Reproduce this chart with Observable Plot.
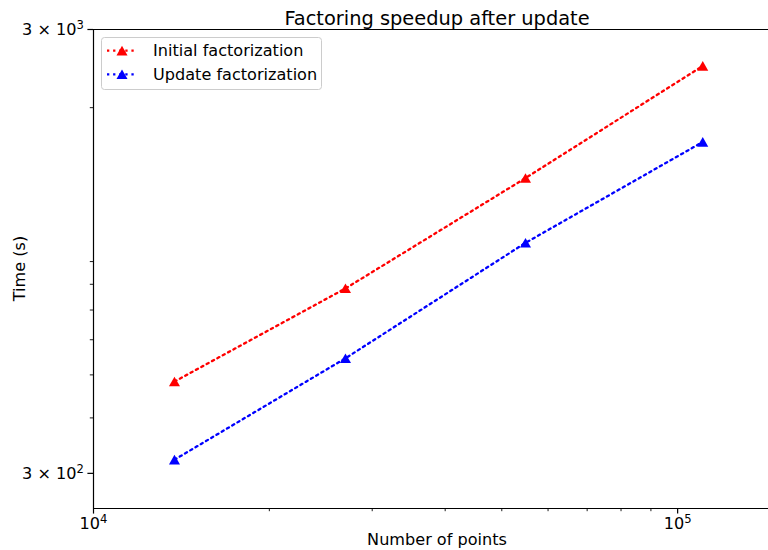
<!DOCTYPE html>
<html><head><meta charset="utf-8">
<script src="https://cdn.jsdelivr.net/npm/d3@7"></script>
<script src="https://cdn.jsdelivr.net/npm/@observablehq/plot@0.6"></script>
<style>
body{margin:0;background:#fff;}
#wrap{width:768px;height:550px;overflow:hidden;position:relative;background:#fff;}
#wrap svg{max-width:none !important;width:780px;height:550px;display:block;}
svg text{font-family:"DejaVu Sans";}
</style></head><body><div id="wrap"></div>
<script>
const points = [13760, 27000, 54900, 110400];
const initialTimes = [483, 783, 1388, 2483];
const updateTimes = [322, 545, 992, 1674];
const seriesNames = ["Initial factorization", "Update factorization"];
const seriesColors = ["red", "blue"];
const xMajorTicks = [1e4, 1e5];
const xMinorTicks = [2e4, 3e4, 4e4, 5e4, 6e4, 7e4, 8e4, 9e4];
const yMajorTicks = [300, 3000];
const yMinorTicks = [400, 500, 600, 700, 800, 900, 2000];
const titleText = "Factoring speedup after update";
const xLabel = "Number of points";
const yLabel = "Time (s)";

const data = [];
points.forEach((p, i) => {
  data.push({series: seriesNames[0], n: p, t: initialTimes[i]});
  data.push({series: seriesNames[1], n: p, t: updateTimes[i]});
});

const supMap = {"0":"⁰","1":"¹","2":"²","3":"³","4":"⁴","5":"⁵","6":"⁶","7":"⁷","8":"⁸","9":"⁹"};
const unSup = Object.fromEntries(Object.entries(supMap).map(([k, v]) => [v, k]));
const sup = s => String(s).split("").map(c => supMap[c]).join("");
function fmt(v) {
  const e = Math.floor(Math.log10(v) + 1e-9);
  const m = Math.round(v / Math.pow(10, e));
  return m === 1 ? "10" + sup(e) : m + " × 10" + sup(e);
}

const FS = 16.1;
const chart = Plot.plot({
  width: 780, height: 550,
  marginLeft: 93, marginRight: 0, marginTop: 29, marginBottom: 42,
  style: {fontFamily: "DejaVu Sans", fontSize: FS + "px", color: "black", background: "white", overflow: "visible", maxWidth: "none"},
  x: {type: "log", domain: [1e4, 1.5e5]},
  y: {type: "log", domain: [250, 3000]},
  color: {domain: seriesNames, range: seriesColors},
  marks: [
    Plot.axisX({ticks: xMinorTicks, tickSize: 3.2, strokeWidth: 0.9, tickFormat: () => "", label: null}),
    Plot.axisX({ticks: xMajorTicks, tickSize: 5.6, strokeWidth: 1.2, tickPadding: 3, tickFormat: fmt, label: null, fontSize: FS}),
    Plot.axisY({ticks: yMinorTicks, tickSize: 3.2, strokeWidth: 0.9, tickFormat: () => "", label: null}),
    Plot.axisY({ticks: yMajorTicks, tickSize: 5.6, strokeWidth: 1.2, tickPadding: 4, tickFormat: fmt, label: null, fontSize: FS}),
    Plot.ruleX([1e4], {stroke: "black", strokeWidth: 1.2}),
    Plot.ruleY([250, 3000], {stroke: "black", strokeWidth: 1.2}),
    Plot.line(data, {x: "n", y: "t", z: "series", stroke: "series", strokeWidth: 2.3, strokeDasharray: "2.3,3.8"}),
    Plot.dot(data, {x: "n", y: "t", fill: "series", symbol: "triangle", r: 4.1, dy: 1.5}),
    Plot.text([titleText], {frameAnchor: "top", lineAnchor: "bottom", dy: -5, fontSize: 19.4, fill: "black"}),
    Plot.text([xLabel], {frameAnchor: "bottom", lineAnchor: "bottom", dy: 36, fontSize: FS, fill: "black"})
  ]
});
document.getElementById("wrap").appendChild(chart);

const svg = d3.select(chart);

// render unicode superscripts as raised, smaller tspans (like mathtext)
svg.selectAll("text").each(function() {
  const t = this.textContent;
  const m = t.match(/^(.*?)([⁰¹²³⁴⁵⁶⁷⁸⁹]+)$/);
  if (!m) return;
  const el = d3.select(this);
  el.text(null);
  el.append("tspan").text(m[1]);
  el.append("tspan").attr("dy", "-0.45em").attr("font-size", "72%")
    .text(m[2].split("").map(c => unSup[c]).join(""));
});

// y-axis label
svg.append("text")
  .attr("transform", "translate(25," + ((29 + 508) / 2) + ") rotate(-90)")
  .attr("text-anchor", "middle")
  .attr("font-size", FS)
  .attr("fill", "black")
  .text(yLabel);

// legend
const lg = svg.append("g");
lg.append("rect").attr("x", 101.5).attr("y", 37.5).attr("width", 220).attr("height", 52)
  .attr("rx", 3).attr("fill", "white").attr("fill-opacity", 0.8).attr("stroke", "#cccccc").attr("stroke-width", 1);
seriesNames.forEach((name, i) => {
  const cy = 50.7 + i * 23.6;
  lg.append("line").attr("x1", 107).attr("x2", 137).attr("y1", cy).attr("y2", cy)
    .attr("stroke", seriesColors[i]).attr("stroke-width", 2.3).attr("stroke-dasharray", "2.3,3.8");
  lg.append("path").attr("d", d3.symbol(d3.symbolTriangle, Math.PI * 4.1 * 4.1)())
    .attr("transform", "translate(122," + (cy + 1.5) + ")").attr("fill", seriesColors[i]);
  lg.append("text").attr("x", 153).attr("y", cy).attr("dy", "0.36em")
    .attr("text-anchor", "start")
    .attr("font-size", FS).attr("fill", "black").text(name);
});
</script></body></html>
